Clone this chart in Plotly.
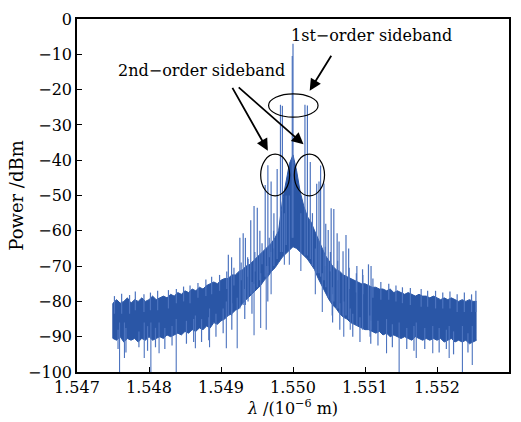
import plotly.graph_objects as go

# ---- body of the spectrum: wavelength grid (um) with upper / lower envelope (dBm)
lam_env = [1.54750, 1.54755, 1.54760, 1.54765, 1.54770, 1.54775, 1.54780, 1.54785, 1.54790, 1.54795,
           1.54800, 1.54805, 1.54810, 1.54815, 1.54820, 1.54825, 1.54830, 1.54835, 1.54840, 1.54845,
           1.54850, 1.54855, 1.54860, 1.54865, 1.54870, 1.54875, 1.54880, 1.54885, 1.54890, 1.54895,
           1.54900, 1.54905, 1.54910, 1.54915, 1.54920, 1.54925, 1.54930, 1.54935, 1.54940, 1.54945,
           1.54950, 1.54955, 1.54960, 1.54965, 1.54970, 1.54975, 1.54980, 1.54985, 1.54990, 1.54995,
           1.55000, 1.55005, 1.55010, 1.55015, 1.55020, 1.55025, 1.55030, 1.55035, 1.55040, 1.55045,
           1.55050, 1.55055, 1.55060, 1.55065, 1.55070, 1.55075, 1.55080, 1.55085, 1.55090, 1.55095,
           1.55100, 1.55105, 1.55110, 1.55115, 1.55120, 1.55125, 1.55130, 1.55135, 1.55140, 1.55145,
           1.55150, 1.55155, 1.55160, 1.55165, 1.55170, 1.55175, 1.55180, 1.55185, 1.55190, 1.55195,
           1.55200, 1.55205, 1.55210, 1.55215, 1.55220, 1.55225, 1.55230, 1.55235, 1.55240, 1.55245,
           1.55250, 1.55255]
upper_env = [-80.5, -79.5, -80.5, -80.0, -79.0, -80.5, -79.5, -80.0, -79.0, -80.0,
             -79.5, -78.5, -79.5, -79.0, -78.5, -79.0, -78.0, -78.5, -77.5, -78.0,
             -77.0, -77.5, -76.5, -77.0, -76.0, -76.5, -75.5, -75.0, -74.5, -75.0,
             -74.0, -73.5, -73.5, -72.5, -72.5, -71.5, -71.0, -70.0, -69.5, -68.5,
             -67.5, -66.5, -65.5, -64.5, -63.5, -62.0, -60.0, -52.0, -46.0, -41.0,
             -38.5, -43.0, -49.0, -53.0, -56.0, -57.5, -60.0, -62.5, -65.0, -67.0,
             -68.5, -70.0, -71.0, -71.5, -72.5, -73.0, -73.5, -74.0, -74.5, -75.0,
             -75.0, -75.5, -76.0, -76.0, -76.5, -76.5, -77.0, -76.5, -77.5, -77.0,
             -77.5, -78.0, -77.5, -78.0, -78.5, -78.0, -78.5, -78.5, -79.0, -78.5,
             -79.0, -79.5, -79.0, -79.5, -79.0, -79.5, -80.0, -79.5, -80.0, -79.5,
             -80.0, -80.0]
lower_env = [-90.5, -91.0, -90.0, -91.5, -90.5, -91.0, -90.5, -91.5, -90.5, -91.0,
             -90.0, -91.0, -90.5, -90.0, -90.5, -89.5, -90.0, -89.5, -89.0, -89.5,
             -88.5, -89.0, -88.0, -88.5, -87.5, -88.0, -87.0, -87.5, -86.0, -86.5,
             -85.5, -85.0, -84.0, -83.5, -82.5, -82.0, -80.5, -79.5, -78.5, -77.5,
             -76.5, -75.5, -74.0, -73.0, -71.5, -70.5, -69.0, -67.5, -66.5, -65.5,
             -64.5, -65.0, -66.0, -67.0, -68.0, -69.5, -71.0, -73.5, -75.5, -77.5,
             -79.5, -81.0, -82.0, -83.5, -84.5, -85.0, -86.0, -86.5, -87.0, -87.5,
             -88.0, -88.0, -88.5, -89.0, -88.5, -89.5, -89.0, -90.0, -89.5, -90.0,
             -90.5, -90.0, -90.5, -91.0, -90.0, -90.5, -91.0, -90.5, -91.0, -90.5,
             -91.0, -90.5, -91.5, -91.0, -90.5, -91.5, -91.0, -91.5, -91.0, -92.0,
             -91.5, -91.0]

# ---- discrete spectral lines rising above the body (carrier, sidebands, comb)
spike_lam = [1.55000, 1.54999, 1.549826, 1.549853, 1.550166, 1.550200,
             1.549614, 1.549651, 1.549696, 1.549780, 1.550329, 1.550361, 1.550383, 1.550430, 1.550240,
             1.549413, 1.549459, 1.549504, 1.550489, 1.550530, 1.550567,
             1.549102, 1.549147, 1.549262, 1.549308, 1.549339, 1.549376,
             1.550613, 1.550695, 1.550736, 1.550773, 1.550887, 1.550966, 1.551048, 1.551084,
             1.549540, 1.549735, 1.549905, 1.550270, 1.550455, 1.550640]
spike_top = [-7.0, -10.5, -24.3, -24.6, -24.3, -24.5,
             -47.0, -41.4, -46.0, -42.5, -46.7, -46.0, -41.5, -46.6, -40.5,
             -57.0, -53.0, -53.5, -59.8, -53.6, -53.8,
             -66.8, -67.5, -62.0, -60.7, -62.0, -68.0,
             -60.7, -65.8, -61.2, -65.0, -70.0, -70.9, -69.5, -70.0,
             -60.0, -55.0, -50.0, -55.0, -58.0, -63.0]
spike_bottom = [-62.0, -62.0, -66.0, -66.0, -67.0, -67.0,
                -73.0, -72.0, -71.0, -68.0, -72.0, -72.0, -73.0, -74.0, -68.0,
                -78.0, -77.0, -76.0, -79.0, -80.0, -80.0,
                -84.0, -84.0, -82.0, -81.0, -81.0, -80.0,
                -82.0, -84.0, -84.0, -85.0, -87.0, -88.0, -88.0, -88.0,
                -74.0, -70.0, -64.0, -70.0, -76.0, -82.0]

# ---- small noise spikes on the upper edge of the body
fine_up_lam = [1.54752, 1.54762, 1.54773, 1.54781, 1.54793, 1.54802, 1.54812, 1.54827, 1.54838,
               1.54848, 1.54857, 1.54868, 1.54879, 1.54887, 1.54898, 1.54908, 1.54918, 1.54928,
               1.54937, 1.54947, 1.54957, 1.54967, 1.54973,
               1.55045, 1.55052, 1.55062, 1.55078, 1.55088, 1.55097, 1.55111, 1.55122, 1.55133,
               1.55143, 1.55152, 1.55163, 1.55178, 1.55187, 1.55198, 1.55208, 1.55218, 1.55228,
               1.55238, 1.55248, 1.55254]
fine_up_top = [-78.5, -77.8, -78.2, -77.2, -78.0, -77.5, -77.0, -76.8, -76.5,
               -75.8, -75.5, -74.8, -73.8, -73.0, -72.5, -71.5, -70.5, -69.0,
               -67.5, -66.0, -63.5, -62.0, -60.0,
               -64.5, -66.0, -68.5, -70.5, -72.0, -72.5, -73.5, -74.5, -75.0,
               -75.5, -76.0, -76.2, -76.5, -77.0, -77.0, -77.5, -77.2, -78.0,
               -77.5, -78.0, -77.0]

# ---- small noise dips on the lower edge of the body
fine_dn_lam = [1.54757, 1.54768, 1.54786, 1.54798, 1.54809, 1.54822, 1.54832, 1.54852, 1.54862,
               1.54873, 1.54883, 1.54893, 1.54903, 1.54915, 1.54933, 1.54943, 1.54965,
               1.55055, 1.55065, 1.55083, 1.55093, 1.55108, 1.55118, 1.55138, 1.55158, 1.55168,
               1.55183, 1.55203, 1.55213, 1.55223, 1.55243]
fine_dn_bottom = [-93.5, -94.5, -93.0, -94.0, -93.0, -93.5, -92.5, -92.0, -91.5,
                  -91.5, -91.0, -90.0, -89.0, -88.0, -85.0, -83.5, -80.0,
                  -86.0, -88.0, -90.0, -91.5, -92.0, -92.5, -93.0, -93.5, -94.0,
                  -93.5, -94.5, -93.5, -95.0, -94.5]

# ---- deep dips below the body
dip_lam = [1.547591, 1.547659, 1.547934, 1.548026, 1.548140, 1.548378, 1.548644, 1.548841,
           1.549074, 1.549225, 1.549459, 1.549551, 1.549628, 1.549696, 1.549880, 1.549949,
           1.550109, 1.550310, 1.550407, 1.550544, 1.550705, 1.550795, 1.551070, 1.551299,
           1.551474, 1.551712, 1.551941, 1.552169, 1.552353, 1.552490]
dip_bottom = [-100.0, -96.0, -96.0, -100.0, -94.7, -100.0, -93.3, -93.0,
              -93.3, -93.3, -89.6, -87.5, -88.0, -78.0, -69.6, -69.6,
              -71.4, -78.0, -83.0, -84.0, -90.0, -88.0, -90.0, -94.7,
              -100.0, -96.0, -94.7, -96.0, -100.0, -98.0]
dip_top = [-86.0, -86.0, -86.0, -86.0, -86.0, -85.0, -84.0, -82.0,
           -80.0, -79.0, -75.0, -72.0, -70.0, -66.0, -55.0, -50.0,
           -55.0, -65.0, -72.0, -76.0, -80.0, -82.0, -84.0, -85.0,
           -86.0, -86.0, -87.0, -87.0, -87.0, -87.0]

x_ticks = [1.547, 1.548, 1.549, 1.550, 1.551, 1.552]
x_tick_text = ["1.547", "1.548", "1.549", "1.550", "1.551", "1.552"]
y_ticks = [0, -10, -20, -30, -40, -50, -60, -70, -80, -90, -100]

BLUE = "#2a56a6"
LIGHT = "#4d74bf"
FONT = "DejaVu Serif"


def segments(xs, tops, bottoms):
    sx, sy = [], []
    for x, t, b in zip(xs, tops, bottoms):
        sx += [x, x, None]
        sy += [t, b, None]
    return sx, sy


def env_at(x, env):
    # value of the read envelope at the nearest grid point (used only as segment anchor)
    i = min(range(len(lam_env)), key=lambda k: abs(lam_env[k] - x))
    return env[i]


fig = go.Figure()
fig.add_trace(go.Scatter(x=lam_env, y=lower_env, mode="lines",
                         line=dict(color=BLUE, width=1), hoverinfo="skip", showlegend=False))
fig.add_trace(go.Scatter(x=lam_env, y=upper_env, mode="lines", fill="tonexty",
                         fillcolor=BLUE, line=dict(color=BLUE, width=1),
                         hoverinfo="skip", showlegend=False))
fig.add_trace(go.Scatter(x=[lam_env[0], lam_env[0]], y=[upper_env[0], lower_env[0]], mode="lines",
                         line=dict(color=BLUE, width=1.5), hoverinfo="skip", showlegend=False))

ux, uy = segments(fine_up_lam, fine_up_top, [env_at(x, upper_env) - 3 for x in fine_up_lam])
fig.add_trace(go.Scatter(x=ux, y=uy, mode="lines", line=dict(color=LIGHT, width=1.2),
                         hoverinfo="skip", showlegend=False))
lx, ly = segments(fine_dn_lam, [env_at(x, lower_env) + 3 for x in fine_dn_lam], fine_dn_bottom)
fig.add_trace(go.Scatter(x=lx, y=ly, mode="lines", line=dict(color=LIGHT, width=1.2),
                         hoverinfo="skip", showlegend=False))
sx, sy = segments(spike_lam, spike_top, spike_bottom)
fig.add_trace(go.Scatter(x=sx, y=sy, mode="lines", line=dict(color=LIGHT, width=1.2),
                         hoverinfo="skip", showlegend=False))
dx, dy = segments(dip_lam, dip_top, dip_bottom)
fig.add_trace(go.Scatter(x=dx, y=dy, mode="lines", line=dict(color=LIGHT, width=1.1),
                         hoverinfo="skip", showlegend=False))

# ellipses
ell = dict(type="circle", xref="x", yref="y", line=dict(color="black", width=1.2), layer="above")
fig.add_shape(x0=1.549661, x1=1.550348, y0=-27.8, y1=-21.2, **ell)
fig.add_shape(x0=1.549551, x1=1.549953, y0=-50.1, y1=-38.3, **ell)
fig.add_shape(x0=1.550018, x1=1.550438, y0=-50.1, y1=-38.3, **ell)

# arrows
arr = dict(text="", showarrow=True, xref="x", yref="y", axref="x", ayref="y",
           arrowhead=2, arrowsize=1.3, arrowwidth=1.8, arrowcolor="black", standoff=0)
fig.add_annotation(x=1.550232, y=-20.3, ax=1.550544, ay=-10.0, **arr)
fig.add_annotation(x=1.549651, y=-37.3, ax=1.549147, ay=-19.1, **arr)
fig.add_annotation(x=1.550146, y=-35.5, ax=1.549225, ay=-19.0, **arr)

fig.add_annotation(x=1.551093, y=-4.7, text="1st−order sideband", showarrow=False,
                   font=dict(family=FONT, size=16, color="black"))
fig.add_annotation(x=1.548735, y=-14.5, text="2nd−order sideband", showarrow=False,
                   font=dict(family=FONT, size=16, color="black"))

axis_common = dict(showline=True, linecolor="black", linewidth=1.5, mirror=True,
                   ticks="inside", ticklen=5, tickcolor="black", showgrid=False, zeroline=False,
                   tickfont=dict(family=FONT, size=16, color="black"))
fig.update_xaxes(range=[1.547, 1.553], tickvals=x_ticks, ticktext=x_tick_text,
                 title=dict(text="<i>λ</i> /(10<sup>−6</sup> m)",
                            font=dict(family=FONT, size=16, color="black"), standoff=2),
                 **axis_common)
fig.update_yaxes(range=[-100, 0], tickvals=y_ticks,
                 title=dict(text="Power /dBm", font=dict(family=FONT, size=18, color="black"),
                            standoff=0),
                 **axis_common)
fig.update_layout(width=521, height=422, margin=dict(l=77, r=10, t=15, b=50),
                  paper_bgcolor="white", plot_bgcolor="white", showlegend=False)
fig.write_html("out.html")
